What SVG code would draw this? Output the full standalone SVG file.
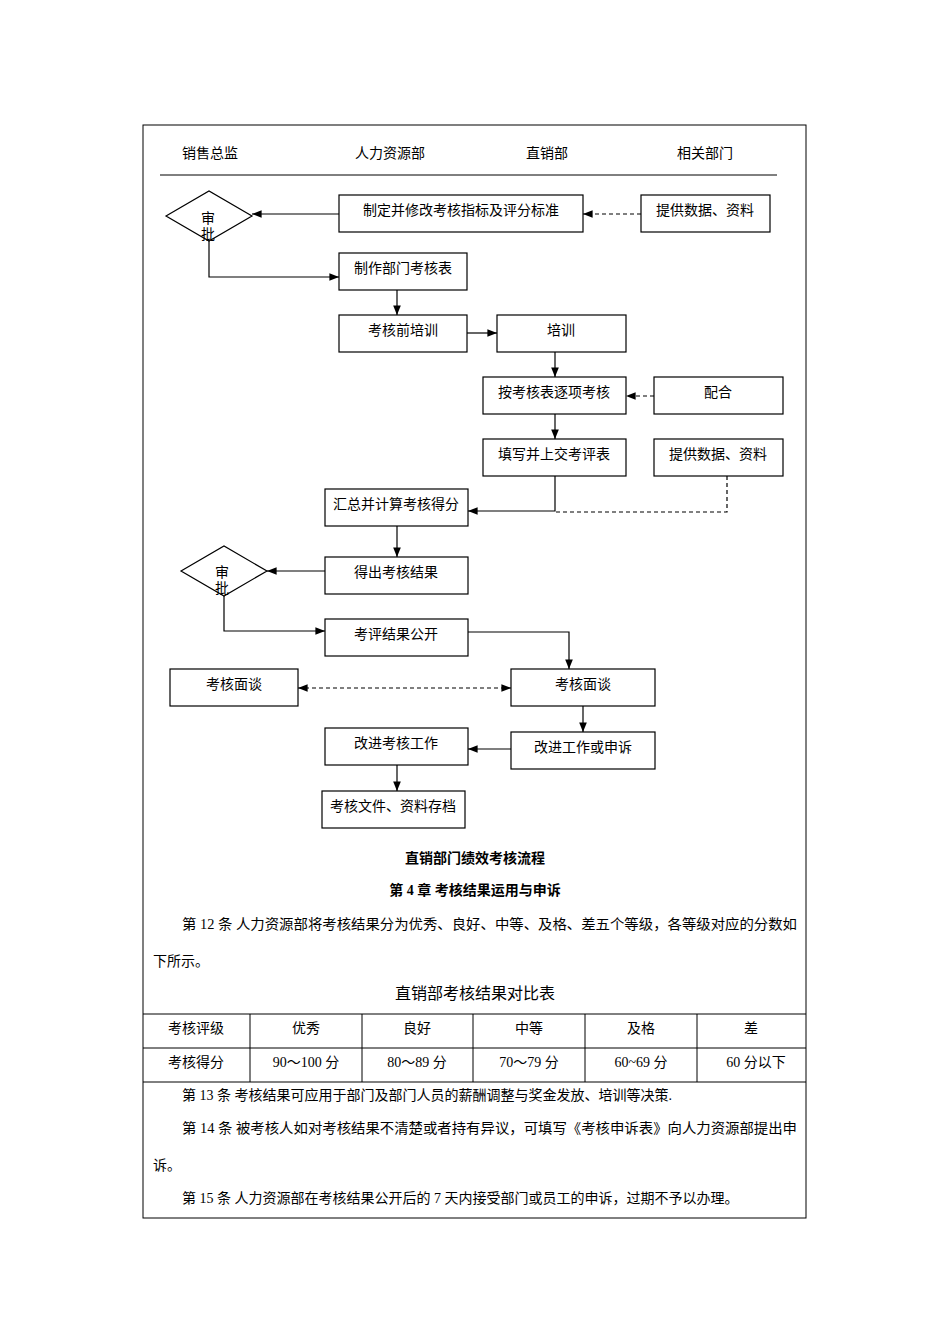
<svg xmlns="http://www.w3.org/2000/svg" width="950" height="1344" viewBox="0 0 950 1344">
<style>
text{font-family:"Liberation Serif","Noto Sans CJK SC",serif;font-size:14px;fill:#000}
.c{text-anchor:middle}
.b{font-weight:bold}
.n rect,.n polygon{fill:#fff;stroke:#000;stroke-width:1.2}
.k path{fill:none;stroke:#000;stroke-width:1.2}
.d{stroke-dasharray:4 3}
</style>
<defs>
<marker id="a" viewBox="0 0 10 10" refX="10" refY="5" markerWidth="8" markerHeight="8" orient="auto-start-reverse"><path d="M0,1 L10,5 L0,9z" fill="#000"/></marker>
</defs>
<rect x="143" y="125" width="663" height="1093" fill="none" stroke="#000"/>
<g id="header">
<text class="c" x="210" y="158">销售总监</text>
<text class="c" x="390" y="158">人力资源部</text>
<text class="c" x="547" y="158">直销部</text>
<text class="c" x="705" y="158">相关部门</text>
<path d="M160,175H777" stroke="#000"/>
</g>
<g class="k" id="connectors">
<path d="M339,214H252" marker-end="url(#a)"/>
<path class="d" d="M641,214H583" marker-end="url(#a)"/>
<path d="M209,241V277H339" marker-end="url(#a)"/>
<path d="M397,290V315" marker-end="url(#a)"/>
<path d="M467,333H497" marker-end="url(#a)"/>
<path d="M555,352V377" marker-end="url(#a)"/>
<path class="d" d="M654,396H626" marker-end="url(#a)"/>
<path d="M555,414V439" marker-end="url(#a)"/>
<path d="M555,476V511H468" marker-end="url(#a)"/>
<path class="d" d="M727,476V512H555"/>
<path d="M397,526V557" marker-end="url(#a)"/>
<path d="M325,571H267" marker-end="url(#a)"/>
<path d="M224,596V631H325" marker-end="url(#a)"/>
<path d="M468,632H569V669" marker-end="url(#a)"/>
<path class="d" d="M298,688H511" marker-start="url(#a)" marker-end="url(#a)"/>
<path d="M583,706V732" marker-end="url(#a)"/>
<path d="M511,749H468" marker-end="url(#a)"/>
<path d="M397,765V791" marker-end="url(#a)"/>
</g>
<g class="n" id="d1"><polygon points="166,216 209,191 252,216 209,241"/><text x="201" y="223">审</text><text x="201" y="239">批</text></g>
<g class="n" id="n1"><rect x="339" y="195" width="244" height="37"/><text class="c" x="461" y="215">制定并修改考核指标及评分标准</text></g>
<g class="n" id="n2"><rect x="641" y="195" width="129" height="37"/><text class="c" x="705" y="215">提供数据、资料</text></g>
<g class="n" id="n3"><rect x="339" y="253" width="128" height="37"/><text class="c" x="403" y="273">制作部门考核表</text></g>
<g class="n" id="n4"><rect x="339" y="315" width="128" height="37"/><text class="c" x="403" y="335">考核前培训</text></g>
<g class="n" id="n5"><rect x="497" y="315" width="129" height="37"/><text class="c" x="561" y="335">培训</text></g>
<g class="n" id="n6"><rect x="483" y="377" width="143" height="37"/><text class="c" x="554" y="397">按考核表逐项考核</text></g>
<g class="n" id="n7"><rect x="654" y="377" width="129" height="37"/><text class="c" x="718" y="397">配合</text></g>
<g class="n" id="n8"><rect x="483" y="439" width="143" height="37"/><text class="c" x="554" y="459">填写并上交考评表</text></g>
<g class="n" id="n9"><rect x="654" y="439" width="129" height="37"/><text class="c" x="718" y="459">提供数据、资料</text></g>
<g class="n" id="n10"><rect x="325" y="489" width="143" height="37"/><text class="c" x="396" y="509">汇总并计算考核得分</text></g>
<g class="n" id="n11"><rect x="325" y="557" width="143" height="37"/><text class="c" x="396" y="577">得出考核结果</text></g>
<g class="n" id="d2"><polygon points="181,571 224,546 267,571 224,596"/><text x="215" y="577">审</text><text x="215" y="593">批</text></g>
<g class="n" id="n12"><rect x="325" y="619" width="143" height="37"/><text class="c" x="396" y="639">考评结果公开</text></g>
<g class="n" id="n13"><rect x="170" y="669" width="128" height="37"/><text class="c" x="234" y="689">考核面谈</text></g>
<g class="n" id="n14"><rect x="511" y="669" width="144" height="37"/><text class="c" x="583" y="689">考核面谈</text></g>
<g class="n" id="n15"><rect x="325" y="728" width="143" height="37"/><text class="c" x="396" y="748">改进考核工作</text></g>
<g class="n" id="n16"><rect x="511" y="732" width="144" height="37"/><text class="c" x="583" y="752">改进工作或申诉</text></g>
<g class="n" id="n17"><rect x="322" y="791" width="143" height="37"/><text class="c" x="393" y="811">考核文件、资料存档</text></g>
<g id="body">
<text class="c b" x="475" y="863">直销部门绩效考核流程</text>
<text class="c b" x="475" y="895">第 4 章  考核结果运用与申诉</text>
<text x="182" y="929" textLength="615" lengthAdjust="spacingAndGlyphs">第 12 条  人力资源部将考核结果分为优秀、良好、中等、及格、差五个等级，各等级对应的分数如</text>
<text x="153" y="966">下所示。</text>
<text class="c" x="475" y="999" style="font-size:16px">直销部考核结果对比表</text>
<path d="M143,1014H806M143,1048H806M143,1082H806M250,1014V1082M362,1014V1082M473,1014V1082M585,1014V1082M697,1014V1082" stroke="#000" fill="none"/>
<text class="c" x="196" y="1033">考核评级</text><text class="c" x="306" y="1033">优秀</text><text class="c" x="417" y="1033">良好</text><text class="c" x="529" y="1033">中等</text><text class="c" x="641" y="1033">及格</text><text class="c" x="751" y="1033">差</text>
<text class="c" x="196" y="1067">考核得分</text><text class="c" x="306" y="1067">90～100 分</text><text class="c" x="417" y="1067">80～89 分</text><text class="c" x="529" y="1067">70～79 分</text><text class="c" x="641" y="1067">60~69 分</text><text class="c" x="756" y="1067">60 分以下</text>
<text x="182" y="1100">第 13 条  考核结果可应用于部门及部门人员的薪酬调整与奖金发放、培训等决策.</text>
<text x="182" y="1133" textLength="615" lengthAdjust="spacingAndGlyphs">第 14 条  被考核人如对考核结果不清楚或者持有异议，可填写《考核申诉表》向人力资源部提出申</text>
<text x="153" y="1170">诉。</text>
<text x="182" y="1203">第 15 条  人力资源部在考核结果公开后的 7 天内接受部门或员工的申诉，过期不予以办理。</text>
</g>
</svg>
